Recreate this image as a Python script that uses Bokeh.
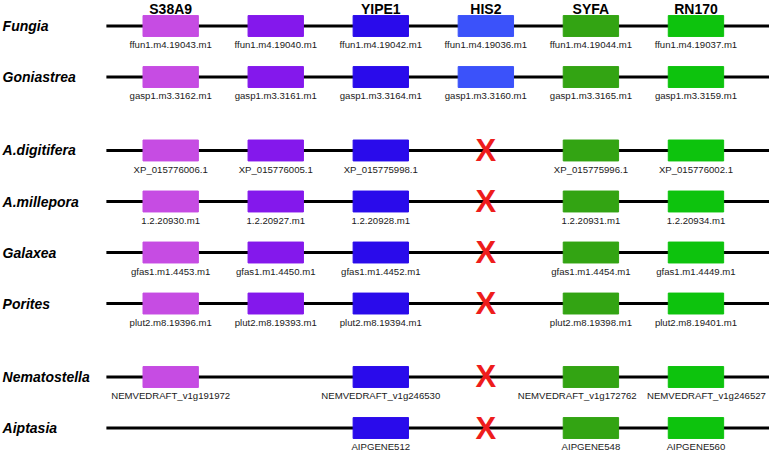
from bokeh.plotting import figure
from bokeh.models import Range1d
from bokeh.core.properties import value
from bokeh.embed import file_html
from bokeh.resources import INLINE

# ---- data ----
gene_names = ["S38A9", "", "YIPE1", "HIS2", "SYFA", "RN170"]
gene_colors = ["#C64CE3", "#8418EC", "#2A0BEB", "#3B52FA", "#33A413", "#0DC30D"]

species = ["Fungia", "Goniastrea", "A.digitifera", "A.millepora",
           "Galaxea", "Porites", "Nematostella", "Aiptasia"]
species_group = [0, 0, 1, 1, 1, 1, 2, 2]

ids_fungia = ["ffun1.m4.19043.m1", "ffun1.m4.19040.m1", "ffun1.m4.19042.m1",
              "ffun1.m4.19036.m1", "ffun1.m4.19044.m1", "ffun1.m4.19037.m1"]
ids_goniastrea = ["gasp1.m3.3162.m1", "gasp1.m3.3161.m1", "gasp1.m3.3164.m1",
                  "gasp1.m3.3160.m1", "gasp1.m3.3165.m1", "gasp1.m3.3159.m1"]
ids_adigitifera = ["XP_015776006.1", "XP_015776005.1", "XP_015775998.1",
                   None, "XP_015775996.1", "XP_015776002.1"]
ids_amillepora = ["1.2.20930.m1", "1.2.20927.m1", "1.2.20928.m1",
                  None, "1.2.20931.m1", "1.2.20934.m1"]
ids_galaxea = ["gfas1.m1.4453.m1", "gfas1.m1.4450.m1", "gfas1.m1.4452.m1",
               None, "gfas1.m1.4454.m1", "gfas1.m1.4449.m1"]
ids_porites = ["plut2.m8.19396.m1", "plut2.m8.19393.m1", "plut2.m8.19394.m1",
               None, "plut2.m8.19398.m1", "plut2.m8.19401.m1"]
ids_nematostella = ["NEMVEDRAFT_v1g191972", None, "NEMVEDRAFT_v1g246530",
                    None, "NEMVEDRAFT_v1g172762", "NEMVEDRAFT_v1g246527"]
ids_aiptasia = [None, None, "AIPGENE512", None, "AIPGENE548", "AIPGENE560"]

all_ids = [ids_fungia, ids_goniastrea, ids_adigitifera, ids_amillepora,
           ids_galaxea, ids_porites, ids_nematostella, ids_aiptasia]

his2_lost = [False, False, True, True, True, True, True, True]
his2_index = 3

# ---- layout ----
GROUP_GAP = 0.44
LABEL_DY = 0.37
row_y = [i + g * GROUP_GAP for i, g in enumerate(species_group)]
n_cols = len(gene_names)
# long labels in the Nematostella row are nudged apart so they do not collide
label_nudge = {(6, 4): -0.13, (6, 5): 0.10}

p = figure(width=769, height=452, output_backend="svg", toolbar_location=None,
           x_range=Range1d(-1.62, 5.70), y_range=Range1d(8.36, -0.50),
           min_border=0, min_border_left=0, min_border_right=0,
           min_border_top=0, min_border_bottom=0)
p.axis.visible = False
p.grid.visible = False
p.outline_line_color = None
p.background_fill_color = "white"
p.border_fill_color = "white"

# chromosome lines
p.segment(x0=[-0.612] * len(species), x1=[5.70] * len(species),
          y0=row_y, y1=row_y, line_color="black", line_width=3)

# gene boxes and labels
bx, by, bc, lx, ly, lt = [], [], [], [], [], []
xx, xy = [], []
for r, ids in enumerate(all_ids):
    for c, gid in enumerate(ids):
        if gid is not None:
            bx.append(c); by.append(row_y[r]); bc.append(gene_colors[c])
            lx.append(c + label_nudge.get((r, c), 0.0))
            ly.append(row_y[r] + LABEL_DY); lt.append(gid)
    if his2_lost[r]:
        xx.append(his2_index); xy.append(row_y[r])

p.rect(x=bx, y=by, width=0.527, height=0.41, fill_color=bc, line_color=bc,
       line_width=1)
p.text(x=lx, y=ly, text=lt, text_align="center", text_baseline="middle",
       text_font=value("Liberation Sans"), text_font_size="9.6px",
       text_color="#1a1a1a")

# lost gene markers
p.text(x=xx, y=xy, text=["X"] * len(xx), text_align="center",
       text_baseline="middle", text_font=value("Liberation Sans"),
       text_font_style="bold", text_font_size="31px", text_color="#EE1C1C")

# species labels
p.text(x=[-1.60] * len(species), y=row_y, text=species, text_align="left",
       text_baseline="middle", text_font=value("Liberation Sans"),
       text_font_style="bold italic", text_font_size="14px", text_color="black")

# gene headers
p.text(x=list(range(n_cols)), y=[-0.33] * n_cols, text=gene_names,
       text_align="center", text_baseline="middle",
       text_font=value("Liberation Sans"), text_font_style="bold",
       text_font_size="14px", text_color="black")

open("out.html", "w").write(file_html(p, INLINE))
